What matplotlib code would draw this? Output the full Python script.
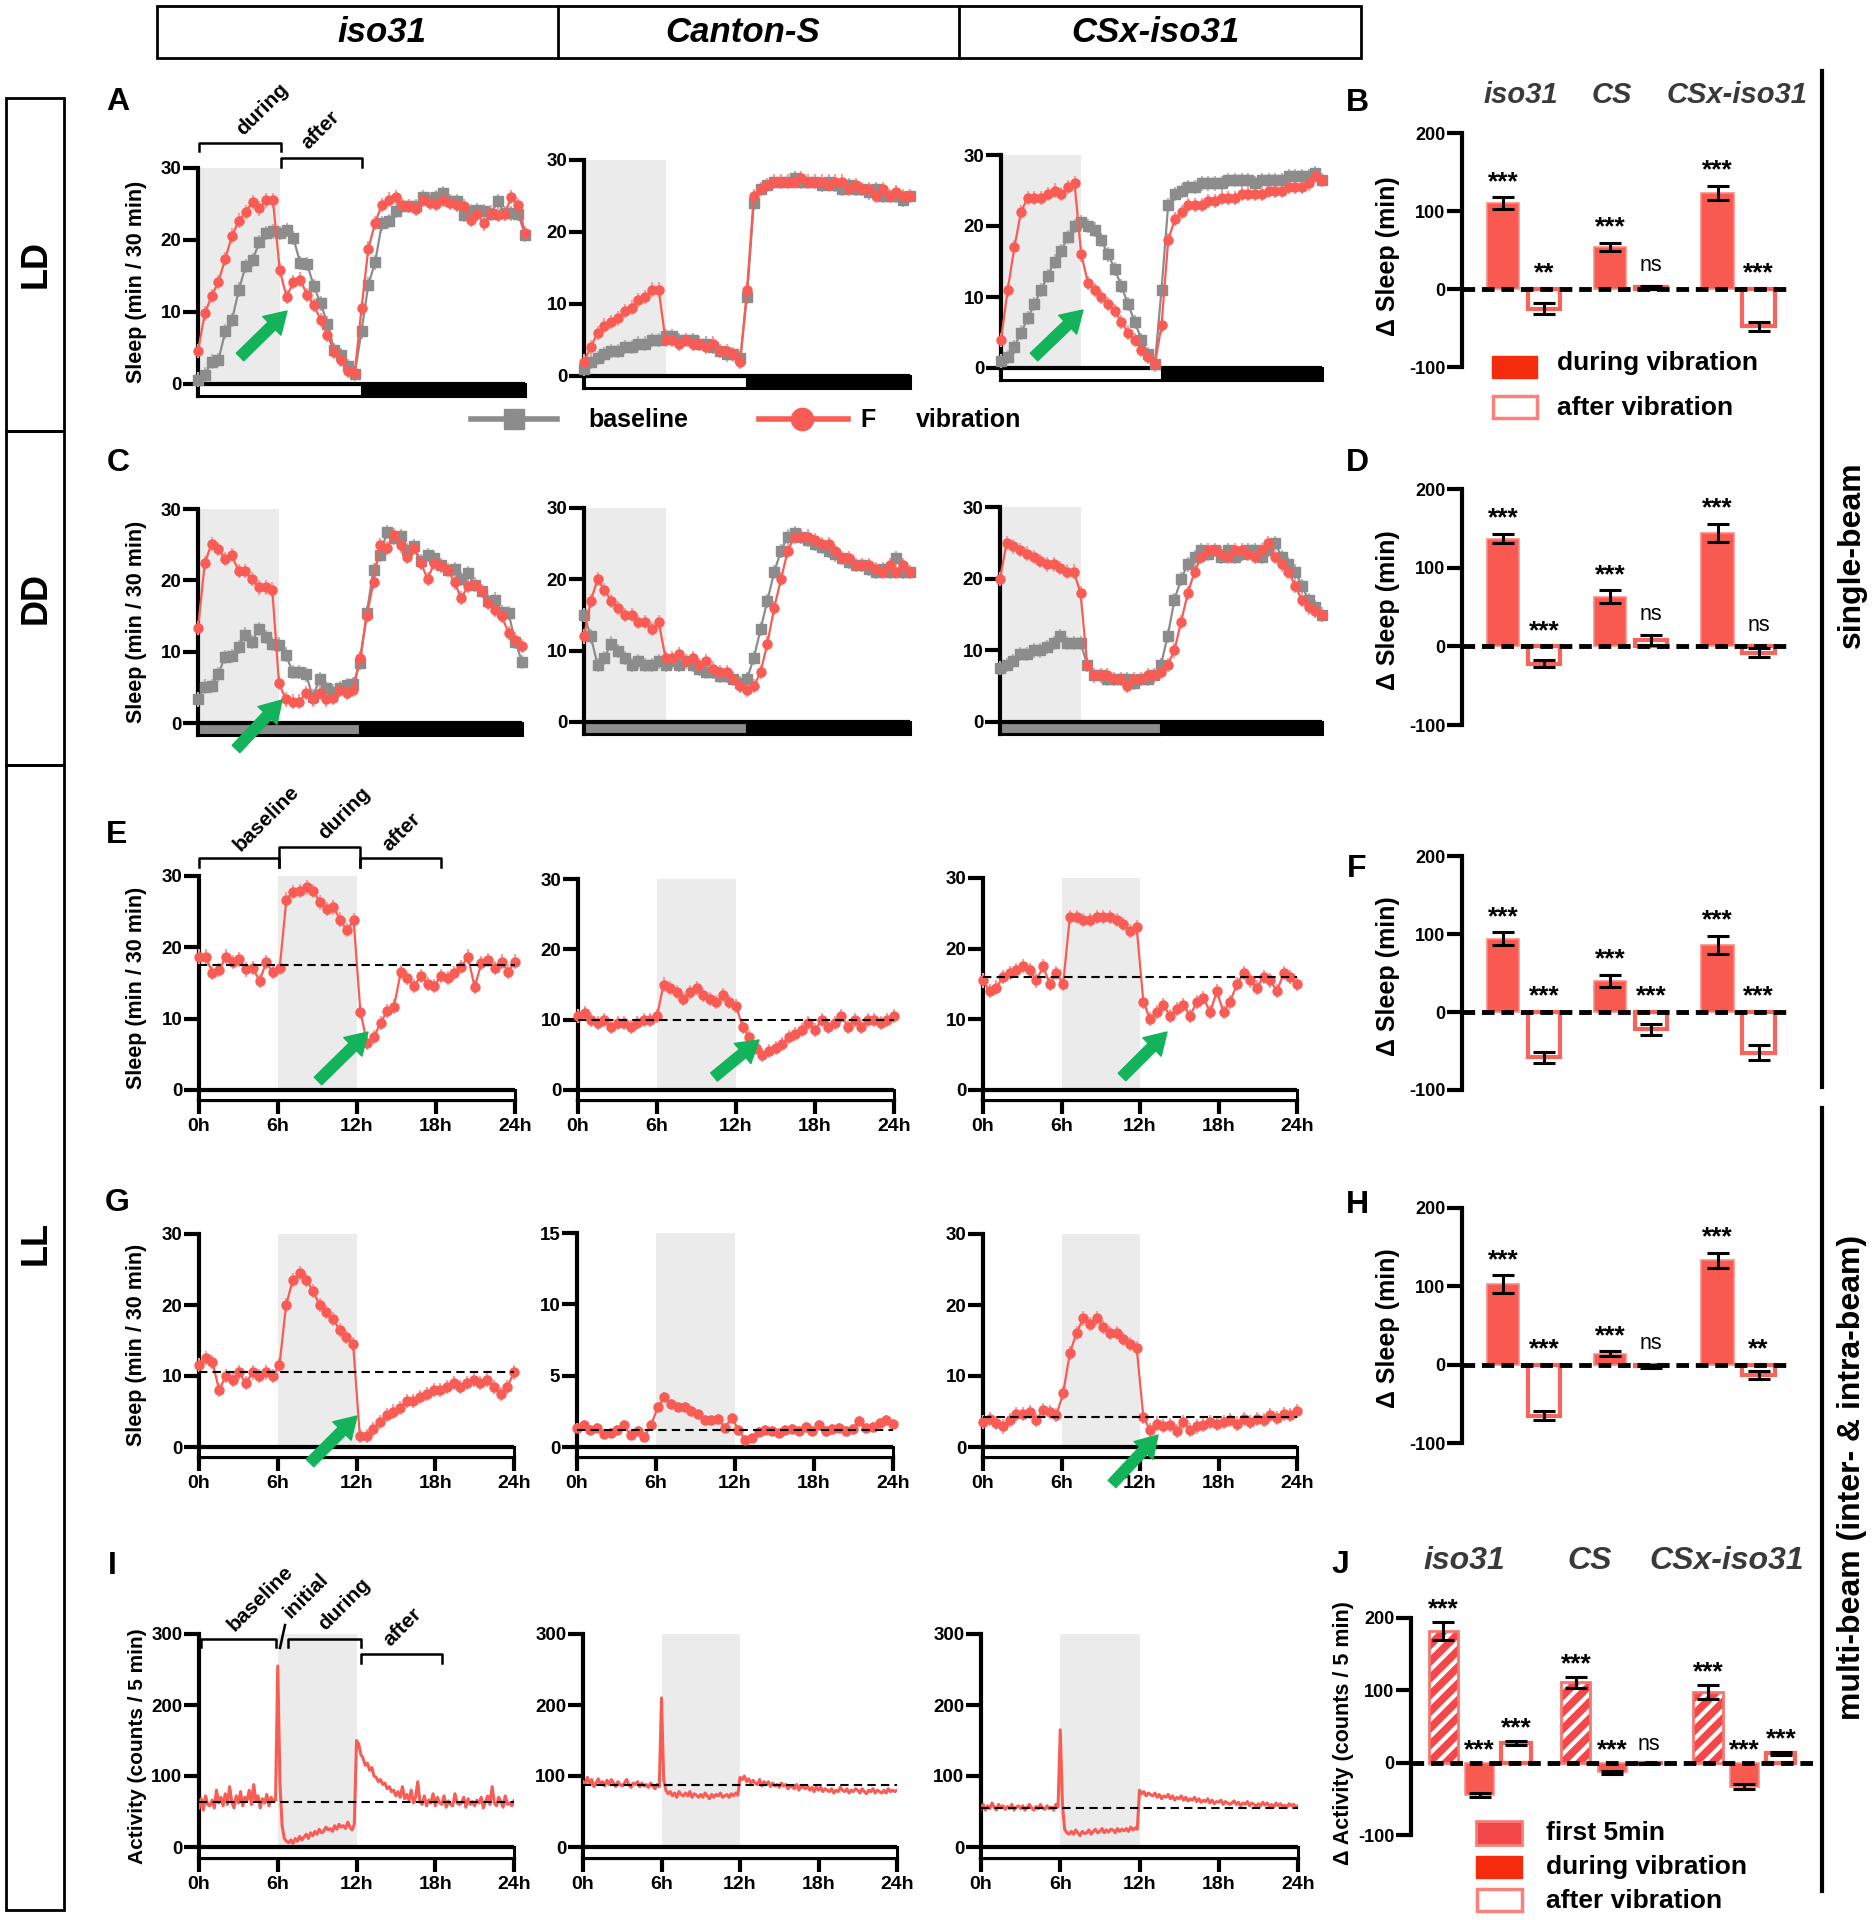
import numpy as np
import matplotlib.pyplot as plt
from matplotlib.patches import Rectangle

plt.rcParams['font.family'] = ['Liberation Sans', 'DejaVu Sans']
plt.rcParams['font.weight'] = 'bold'
plt.rcParams['hatch.linewidth'] = 3.0
plt.rcParams['axes.unicode_minus'] = False

RED = '#f95c55'
RED_ERR = '#f8a09b'
GRAY = '#8c8c8c'
GRAY_ERR = '#b8b8b8'
SHADE = '#ebebeb'
GREEN = '#12b35b'
BAR_RED = '#f85a50'
LEG_RED = '#f42b0c'

# ---- sleep profiles, min / 30 min (0h .. 24h) ----
# LD
ld_iso_vib = [4.6, 9.8, 12.2, 14.2, 17.4, 20.6, 22.7, 23.9, 25.3, 24.4, 25.5, 25.5,
              15.8, 12.1, 14.2, 14.5, 12.4, 11.0, 8.9, 6.8, 4.5, 3.3, 1.8, 1.5,
              10.5, 18.8, 22.4, 24.9, 25.6, 26.0, 24.8, 24.7, 24.3, 25.6, 25.1, 25.0, 25.6,
              25.2, 24.9, 24.7, 22.8, 23.6, 22.3, 23.8, 23.5, 23.6, 26.0, 24.9, 21.0]
ld_iso_base = [0.6, 1.3, 3.1, 3.3, 7.3, 8.9, 13.1, 16.4, 17.2, 19.7, 21.0, 21.2,
               21.0, 21.4, 20.3, 16.8, 16.7, 13.6, 11.2, 8.4, 4.7, 4.0, 2.5, 1.4,
               7.3, 13.8, 16.9, 22.3, 22.6, 24.0, 24.7, 24.7, 24.7, 26.0, 25.6, 26.0, 26.5,
               25.4, 25.4, 23.5, 24.0, 24.1, 24.0, 23.6, 25.4, 23.7, 23.7, 23.6, 20.7]
ld_cs_vib = [2, 4, 6, 7, 7.5, 8, 9, 9.5, 10.5, 11, 12, 12,
             5, 5, 4.5, 5, 4.5, 4.5, 4, 4.5, 3.5, 3.5, 3, 2,
             12, 25, 26, 26.5, 27, 27, 27, 27, 27.5, 27, 27, 27, 26.5,
             27, 27, 26, 26.5, 26, 26, 25, 26, 25, 25.5, 25, 25]
ld_cs_base = [1, 2, 2.5, 3, 3.5, 3.5, 4, 4, 4.5, 4.5, 5, 5,
              5.5, 5.5, 5, 5, 5, 4.5, 4.5, 4, 3.5, 3, 3, 2.5,
              11, 24, 26, 26.5, 27, 27, 27, 27.5, 27, 27, 27, 26.5, 27,
              26.5, 26, 26.5, 26, 26, 25.5, 26, 25, 25, 25, 24.5, 25]
ld_csx_vib = [4, 11, 17, 22, 24, 24, 24, 24.5, 25, 24.5, 25.5, 26,
              16, 12, 11, 10, 9, 8, 6.5, 5, 4, 2.5, 1.5, 0.5,
              6, 18, 21, 22, 23, 23, 23, 23.5, 23.5, 24, 24, 24, 24.5,
              24.5, 24.5, 24.5, 25, 25, 25, 25.5, 25.5, 25.5, 26, 27, 26.5]
ld_csx_base = [1, 1.5, 3, 5, 7, 9, 11, 13, 15, 16.5, 18.5, 20,
               20.5, 20, 19.5, 18, 16, 14, 11.5, 9, 6.5, 4, 2, 0.5,
               11, 23, 24.5, 25, 25.5, 25.5, 26, 26, 26, 26, 26.5, 26.5, 26.5,
               26.5, 26, 26.5, 26.5, 26.5, 26.5, 27, 27, 27, 27, 27.5, 26.5]

# DD
dd_iso_vib = [13.3, 22.4, 25.1, 24.4, 23.0, 23.6, 21.3, 21.3, 20.2, 19.0, 19.0, 18.7,
              5.6, 3.3, 3.0, 3.0, 4.2, 3.3, 4.2, 3.3, 3.5, 4.6, 4.2, 4.6,
              9.1, 15.0, 19.8, 25.0, 24.5, 26.4, 24.9, 23.3, 24.5, 22.5, 20.2, 22.4, 22.0,
              21.5, 19.7, 17.5, 19.2, 19.4, 18.5, 16.8, 15.9, 15.0, 12.6, 11.7, 10.8]
dd_iso_base = [3.3, 5.1, 5.2, 6.8, 9.3, 9.4, 10.7, 12.4, 11.4, 13.2, 12.1, 11.1,
               11.0, 9.6, 7.2, 7.2, 6.8, 3.7, 6.1, 4.9, 4.4, 4.9, 5.3, 5.5,
               8.4, 15.4, 21.5, 23.6, 26.8, 25.9, 26.2, 24.3, 24.8, 22.7, 23.6, 23.1, 22.2,
               21.4, 21.6, 20.2, 21.0, 19.4, 18.5, 17.1, 17.3, 15.5, 15.4, 11.4, 8.6]
dd_cs_vib = [12, 17, 20, 18.5, 17, 16, 15, 15, 14, 14, 13, 14,
             9, 9, 9.5, 8.5, 9, 8, 8.5, 7.5, 7, 7, 6, 5,
             4.5, 5, 7, 11, 16, 20, 24, 26, 26, 26, 25.5, 25, 25,
             24, 23, 23, 22, 22, 22, 21.5, 21, 22, 21, 22, 21]
dd_cs_base = [15, 12, 8, 9, 11, 10, 9, 8, 8.5, 8, 8, 8.5,
              8, 8.5, 8, 8.5, 8, 7.5, 7, 7, 6.5, 6.5, 6, 5.5,
              6, 9, 13, 17, 21, 24, 26, 26.5, 26, 25.5, 25, 24.5, 24,
              23.5, 23, 22.5, 22, 22, 21.5, 21, 21.5, 21, 23, 21, 21]
dd_csx_vib = [20, 25, 24.5, 24, 23.5, 23, 22.5, 22, 22, 21.5, 21, 21,
              18, 8, 6.5, 6.5, 6.5, 6, 6, 5, 6, 6, 6.5, 6.5,
              7, 8, 10, 14, 18, 21, 23, 24, 24, 23.5, 23, 24, 24,
              23.5, 23, 24, 25, 23, 22, 21, 19, 17, 16, 15.5, 15]
dd_csx_base = [7.5, 8, 8.5, 9.5, 9.5, 10, 10, 10.5, 11, 12, 11, 11,
               11, 8, 6.5, 6.5, 6, 6, 6, 6, 5.5, 6, 6, 6.5,
               8, 12, 17, 20, 22, 23, 24, 23.5, 24, 23, 24, 23, 23.5,
               24, 24, 23, 24, 25, 23, 22, 21, 19, 17, 16, 15]

# LL, single-beam
ll_iso = [18.7, 18.7, 16.4, 16.8, 18.7, 17.9, 18.3, 16.9, 17.1, 15.3, 17.9, 16.5, 17.1,
          26.7, 27.8, 27.9, 28.4, 27.9, 26.3, 25.4, 25.6, 23.9, 22.4, 23.8,
          11.0, 6.6, 7.4, 9.4, 11.1, 11.7, 16.5, 15.7, 14.6, 16.0, 14.9, 14.6,
          16.0, 15.7, 16.4, 17.2, 18.7, 14.4, 17.8, 18.2, 17.1, 18.0, 16.6, 18.0]
ll_cs = [10.5, 11, 10, 9.5, 10, 9, 9.5, 9.5, 9, 9.5, 10, 10, 10.5,
         15, 14.5, 14, 13, 14, 14.5, 13.5, 13, 12.5, 13.5, 12.5,
         12, 9, 7.5, 6, 5, 5.5, 6, 6.5, 7.5, 8, 8.5, 9.5, 8.5,
         10, 9, 9.5, 10.5, 9, 10, 9, 10, 10, 9.5, 10, 10.5]
ll_csx = [15.5, 14, 14.5, 16, 16.5, 17, 17.5, 17, 15.5, 17.5, 15, 16.5, 15,
          24.5, 24.5, 24, 24, 24.5, 24.5, 24.5, 24, 23.5, 22.5, 23,
          12.5, 10, 11, 12, 10.5, 11.5, 12, 10.5, 12.5, 13, 11, 14,
          11, 12.5, 15, 16.5, 15.5, 14.5, 16, 15.5, 14, 16.5, 16, 15]
ll_base = [17.5, 10, 16]

# LL, multi-beam
mb_iso = [11.5, 12.5, 12, 8, 10, 9.5, 10.5, 9, 10.5, 10, 10.5, 10,
          11.5, 20, 23.5, 24.5, 23.5, 22, 20, 19, 18, 16.5, 15.5, 14.5,
          1.5, 1.5, 2.5, 3.5, 4.5, 5, 5.5, 6.5, 6.5, 7, 7.5, 8,
          8, 8.5, 9, 8.5, 9, 9.5, 9, 9.5, 8.5, 7.5, 8.5, 10.5]
mb_cs = [1.34, 1.52, 1.17, 1.34, 0.94, 0.98, 1.22, 1.52, 0.82, 1.12, 0.70, 1.52,
         2.77, 3.52, 3.0, 2.81, 2.81, 2.53, 2.34, 1.87, 1.87, 1.99, 1.34, 2.06,
         1.22, 0.52, 0.66, 1.05, 1.17, 1.12, 1.0, 1.17, 1.29, 1.1, 1.41, 1.1,
         1.52, 1.1, 1.29, 1.34, 1.12, 1.29, 1.83, 1.36, 1.41, 1.69, 1.87, 1.64]
mb_csx = [3.5, 4.0, 3.4, 2.9, 3.8, 4.6, 4.7, 4.9, 3.8, 5.2, 4.9, 4.5,
          7.6, 13.2, 16.1, 18.1, 17.3, 18.2, 16.9, 16.1, 16.1, 15.2, 14.5, 14.0,
          4.2, 2.4, 3.3, 3.0, 3.1, 2.2, 3.5, 2.4, 2.9, 3.1, 3.5, 3.3,
          3.5, 3.8, 3.3, 4.0, 3.5, 3.9, 3.8, 4.5, 4.1, 4.7, 4.5, 5.1]
mb_base = [10.5, 1.2, 4.2]

# activity, counts / 5 min, one value per 10 min
act_iso = [55, 68, 52, 72, 60, 58, 66, 55, 80, 62, 70, 58,
           75, 60, 85, 63, 55, 72, 62, 78, 58, 70, 66, 80,
           60, 88, 65, 72, 55, 68, 62, 74, 58, 70, 64, 66,
           255, 90, 30, 12, 8, 6, 10, 5, 12, 8, 15, 10,
           14, 18, 12, 20, 16, 22, 18, 25, 20, 22, 28, 24,
           26, 22, 30, 25, 32, 28, 30, 26, 35, 28, 24, 32,
           150, 145, 130, 125, 115, 118, 108, 112, 100, 98, 92, 95,
           88, 90, 82, 85, 78, 80, 72, 78, 70, 85, 68, 74,
           66, 80, 62, 70, 92, 64, 60, 72, 58, 66, 62, 75,
           58, 70, 62, 60, 72, 56, 65, 60, 58, 75, 62, 60,
           62, 70, 56, 68, 60, 64, 58, 66, 62, 70, 55, 64,
           72, 60, 85, 62, 58, 70, 64, 56, 72, 60, 62, 58, 65]
act_cs = [92, 88, 98, 90, 95, 85, 90, 96, 88, 92, 86, 94,
          88, 95, 90, 85, 92, 88, 86, 90, 95, 88, 84, 90,
          88, 92, 85, 90, 86, 88, 84, 90, 86, 82, 88, 85,
          210, 95, 80, 75, 78, 72, 76, 70, 78, 74, 72, 76,
          72, 78, 70, 75, 73, 70, 74, 70, 76, 72, 68, 74,
          70, 74, 72, 76, 70, 72, 74, 70, 75, 72, 76, 73,
          98, 95, 100, 92, 96, 90, 94, 90, 88, 95, 86, 92,
          88, 92, 85, 90, 86, 88, 84, 90, 86, 88, 82, 86,
          85, 82, 88, 80, 86, 84, 82, 86, 80, 84, 78, 85,
          80, 84, 78, 82, 80, 78, 82, 76, 80, 78, 84, 80,
          78, 82, 76, 80, 78, 82, 80, 76, 82, 78, 75, 80,
          78, 82, 76, 80, 78, 76, 80, 76, 82, 78, 80, 78, 80]
act_csx = [55, 60, 52, 58, 54, 62, 56, 52, 60, 55, 58, 53,
           57, 54, 60, 52, 56, 58, 54, 58, 52, 56, 60, 55,
           52, 57, 54, 60, 55, 53, 58, 54, 56, 52, 60, 56,
           165, 60, 25, 20, 18, 22, 18, 24, 20, 16, 22, 19,
           20, 24, 18, 22, 25, 20, 22, 26, 20, 24, 21, 25,
           24, 20, 26, 22, 25, 23, 26, 22, 28, 24, 27, 25,
           80, 75, 78, 72, 76, 74, 72, 76, 70, 74, 68, 72,
           70, 74, 68, 72, 66, 70, 68, 72, 66, 70, 65, 68,
           66, 70, 64, 68, 63, 66, 64, 68, 62, 66, 61, 64,
           63, 66, 60, 64, 62, 60, 62, 65, 60, 63, 58, 62,
           60, 64, 58, 62, 60, 57, 61, 58, 63, 59, 62, 57,
           60, 56, 62, 58, 61, 57, 59, 56, 61, 58, 60, 57, 58]
act_base = [63, 88, 55]

# ---- delta bars ----
groups = ['iso31', 'CS', 'CSx-iso31']
b_mean = [110, -25, 54, 2, 123, -48]
b_err = [7.5, 7, 5, 2, 9, 6]
b_sig = ['***', '**', '***', 'ns', '***', '***']
d_mean = [137, -22, 63, 8, 144, -8]
d_err = [6, 4, 8, 6, 12, 6]
d_sig = ['***', '***', '***', 'ns', '***', 'ns']
f_mean = [94, -58, 40, -22, 86, -52]
f_err = [8, 7, 8, 7, 12, 10]
f_sig = ['***'] * 6
h_mean = [103, -65, 14, -2, 133, -13]
h_err = [11, 6, 3, 2, 10, 5]
h_sig = ['***', '***', '***', 'ns', '***', '**']
j_mean = [182, -45, 27, 111, -13, -1, 98, -33, 13]
j_err = [13, 3, 3, 8, 2, 1, 10, 3, 2]
j_sig = ['***', '***', '***', '***', '***', 'ns', '***', '***', '***']

W, H = 1873, 1920
fig = plt.figure(figsize=(W / 100, H / 100), dpi=100)


def px_axes(x0, x1, ytop, ybot):
    return fig.add_axes([x0 / W, 1 - ybot / H, (x1 - x0) / W, (ybot - ytop) / H])


def time_panel(px, top, step, shade, light, series=(), line=None, base=None,
               xlab=False, sem=1.0):
    x0, x1, ytop, yzero, ybot = px
    ax = px_axes(x0, x1, ytop, ybot)
    low = -(ybot - yzero) / (yzero - ytop) * top
    ax.set_xlim(0, 24)
    ax.set_ylim(low, top)
    ax.patch.set_visible(False)
    ax.fill_between(shade, 0, top, color=SHADE, lw=0, zorder=0)
    # light / dark bar under the x axis
    for a, b, c in light:
        ax.add_patch(Rectangle((a, low), b - a, -low, facecolor=c, edgecolor='black',
                               lw=2.2, clip_on=False, zorder=3))
    ax.axhline(0, color='black', lw=3, zorder=4)
    if base is not None:
        ax.axhline(base, color='black', lw=1.5, dashes=(4, 2.5), zorder=6)
    for vals, color, ecolor, marker in series:
        hrs = np.linspace(0, 24, len(vals))
        cont = ax.errorbar(hrs, vals, yerr=sem, fmt='-' + marker, color=color,
                           ecolor=ecolor, ms=6.5, lw=1.6, elinewidth=1.6, capsize=0,
                           zorder=5)
        for art in cont.get_children():
            art.set_clip_on(False)
    if line is not None:
        hrs = np.arange(len(line)) / 6
        ax.plot(hrs, line, color=RED, lw=2.2, zorder=5)
    for s in ('top', 'right'):
        ax.spines[s].set_visible(False)
    ax.spines['left'].set_linewidth(3)
    ax.set_yticks(np.arange(0, top + 1, step))
    ax.tick_params(axis='y', length=11, width=3, pad=1, labelsize=13.5)
    if xlab:
        ax.spines['bottom'].set_linewidth(3)
        ax.set_xticks([0, 6, 12, 18, 24], ['0h', '6h', '12h', '18h', '24h'])
        ax.tick_params(axis='x', length=10, width=3, pad=3, labelsize=14)
    else:
        ax.spines['bottom'].set_visible(False)
        ax.set_xticks([])
    return ax


def bar_panel(px, xpos, xlim, means, errs, sig, off):
    x0, x1, ytop, ybot = px
    ax = px_axes(x0, x1, ytop, ybot)
    ax.set_xlim(*xlim)
    ax.set_ylim(-100, 200)
    ax.patch.set_visible(False)
    kinds = ['first', 'during', 'after'] if len(means) == 9 else ['during', 'after']
    w = 0.8
    for i, (p, m) in enumerate(zip(xpos, means)):
        k = kinds[i % len(kinds)]
        if k == 'during':
            ax.bar(p, m, w, color=BAR_RED, edgecolor='#f98c85', lw=1.2, zorder=2)
        elif k == 'after':
            ax.bar(p, m, w, color='white', edgecolor='#f7645c', lw=3, zorder=2)
        else:
            ax.bar(p, m, w, color='#f4474a', edgecolor='white', hatch='//', lw=0, zorder=2)
            ax.bar(p, m, w, fill=False, edgecolor='#f77570', lw=2, zorder=3)
    ax.errorbar(xpos, means, yerr=errs, fmt='none', ecolor='black', elinewidth=2.2,
                capsize=8, capthick=2.2, zorder=5)
    ax.axhline(0, color='black', lw=3.5, dashes=(2.6, 1.4), zorder=6)
    for p, m, e, s in zip(xpos, means, errs, sig):
        y = m + e if m > 0 else 0
        if s == 'ns':
            ax.annotate(s, (p, y), xytext=(0, off + 5), textcoords='offset points',
                        ha='center', va='baseline', fontsize=15.5, fontweight='normal')
        else:
            ax.annotate(s, (p, y), xytext=(0, off), textcoords='offset points',
                        ha='center', va='baseline', fontsize=19)
    for s in ('top', 'right', 'bottom'):
        ax.spines[s].set_visible(False)
    ax.spines['left'].set_linewidth(3)
    ax.set_xticks([])
    ax.set_yticks([-100, 0, 100, 200])
    ax.tick_params(axis='y', length=11, width=3, pad=1, labelsize=13)
    return ax


LD = [(0, 12, 'white'), (12, 24, 'black')]
DD = [(0, 12, GRAY), (12, 24, 'black')]
LL = [(0, 24, 'white')]
vib = lambda v: (v, RED, RED_ERR, 'o')
bas = lambda v: (v, GRAY, GRAY_ERR, 's')

# row A (LD)
time_panel((198, 525, 168, 384, 396), 30, 10, [0, 6], LD, [bas(ld_iso_base), vib(ld_iso_vib)])
time_panel((584, 910, 160, 376, 388), 30, 10, [0, 6], LD, [bas(ld_cs_base), vib(ld_cs_vib)])
time_panel((1001, 1322, 155, 368, 380), 30, 10, [0, 6], LD, [bas(ld_csx_base), vib(ld_csx_vib)])
# row C (DD)
time_panel((198, 522, 509, 723, 735), 30, 10, [0, 6], DD, [bas(dd_iso_base), vib(dd_iso_vib)])
time_panel((584, 910, 508, 722, 734), 30, 10, [0, 6], DD, [bas(dd_cs_base), vib(dd_cs_vib)])
time_panel((1000, 1322, 507, 722, 734), 30, 10, [0, 6], DD, [bas(dd_csx_base), vib(dd_csx_vib)])
# row E (LL single-beam)
time_panel((199, 515, 876, 1090, 1100), 30, 10, [6, 12], LL, [vib(ll_iso)], base=ll_base[0], xlab=True)
time_panel((578, 894, 879, 1090, 1100), 30, 10, [6, 12], LL, [vib(ll_cs)], base=ll_base[1], xlab=True)
time_panel((983, 1297, 878, 1090, 1100), 30, 10, [6, 12], LL, [vib(ll_csx)], base=ll_base[2], xlab=True)
# row G (LL multi-beam)
time_panel((199, 514, 1234, 1447, 1457), 30, 10, [6, 12], LL, [vib(mb_iso)], base=mb_base[0], xlab=True)
time_panel((577, 893, 1233, 1447, 1457), 15, 5, [6, 12], LL, [vib(mb_cs)], base=mb_base[1], xlab=True, sem=0.35)
time_panel((983, 1297, 1234, 1447, 1457), 30, 10, [6, 12], LL, [vib(mb_csx)], base=mb_base[2], xlab=True)
# row I (activity)
time_panel((199, 514, 1634, 1847, 1858), 300, 100, [6, 12], LL, line=act_iso, base=act_base[0], xlab=True)
time_panel((583, 897, 1634, 1847, 1858), 300, 100, [6, 12], LL, line=act_cs, base=act_base[1], xlab=True)
time_panel((981, 1298, 1634, 1847, 1858), 300, 100, [6, 12], LL, line=act_csx, base=act_base[2], xlab=True)

# delta panels
pos6 = [g + k for g in (0, 2.61, 5.24) for k in (0, 1)]
pos9 = [g + k for g in (0, 3.64, 7.26) for k in (0, 1, 2)]
bar_panel((1462, 1789, 133, 367), pos6, (-1.0, 6.98), b_mean, b_err, b_sig, 6)
bar_panel((1462, 1789, 489, 725), pos6, (-1.0, 6.98), d_mean, d_err, d_sig, 6)
bar_panel((1462, 1789, 856, 1090), pos6, (-1.0, 6.98), f_mean, f_err, f_sig, 6)
bar_panel((1462, 1789, 1208, 1443), pos6, (-1.0, 6.98), h_mean, h_err, h_sig, 6)
bar_panel((1411, 1813, 1618, 1835), pos9, (-0.88, 10.14), j_mean, j_err, j_sig, 4)

# ---- annotations in pixel coordinates ----
ov = fig.add_axes([0, 0, 1, 1], zorder=20)
ov.set_xlim(0, W)
ov.set_ylim(H, 0)
ov.axis('off')

# strain header
ov.add_patch(Rectangle((157, 6), 1204, 52, fill=False, edgecolor='black', lw=2))
for xx in (558, 959):
    ov.plot([xx, xx], [6, 58], color='black', lw=2)
for xx, name in zip((382, 743, 1155), ('iso31', 'Canton-S', 'CSx-iso31')):
    ov.text(xx, 32, name, ha='center', va='center', fontsize=25, style='italic')

# condition boxes on the left
for (y0, y1), name in zip(((98, 431), (431, 765), (765, 1910)), ('LD', 'DD', 'LL')):
    ov.add_patch(Rectangle((6, y0), 58, y1 - y0, fill=False, edgecolor='black', lw=2))
    ov.text(36, (y0 + y1) / 2 if name != 'LL' else 1243, name, rotation=90,
            ha='center', va='center', fontsize=26)

# right side brackets
ov.plot([1822, 1822], [71, 1087], color='black', lw=3)
ov.plot([1822, 1822], [1108, 1891], color='black', lw=3)
ov.text(1852, 555, 'single-beam', rotation=90, ha='center', va='center', fontsize=23)
ov.text(1852, 1477, 'multi-beam (inter- & intra-beam)', rotation=90, ha='center',
        va='center', fontsize=23)

# panel letters
for (xx, yy), lab in zip(((118, 102), (1357, 103), (118, 463), (1357, 463), (117, 835),
                          (1357, 869), (117, 1203), (1357, 1205), (112, 1566), (1340, 1565)),
                         'ABCDEFGHIJ'):
    ov.text(xx, yy, lab, ha='center', va='center', fontsize=23)

# y labels
for yy in (282, 622, 988, 1345):
    ov.text(137, yy, 'Sleep (min / 30 min)', rotation=90, ha='center', va='center', fontsize=15.5)
ov.text(138, 1746, 'Activity (counts / 5 min)', rotation=90, ha='center', va='center', fontsize=15)
for yy in (256, 610, 976, 1328):
    ov.text(1388, yy, '\u0394 Sleep (min)', rotation=90, ha='center', va='center', fontsize=18)
ov.text(1344, 1733, '\u0394 Activity (counts / 5 min)', rotation=90, ha='center', va='center',
        fontsize=15.5)

# strain names over the delta panels
for xx, g in zip((1521, 1612, 1737), groups):
    ov.text(xx, 95, g, ha='center', va='center', fontsize=21, style='italic', color='#3a3a3a')
for xx, g in zip((1464, 1590, 1727), groups):
    ov.text(xx, 1561, g, ha='center', va='center', fontsize=23, style='italic', color='#3a3a3a')

# legends
ov.plot([471, 557], [419, 419], color=GRAY, lw=4)
ov.plot([514], [419], marker='s', ms=15, color=GRAY)
ov.text(588, 420, 'baseline', ha='left', va='center', fontsize=18)
ov.plot([759, 848], [419, 419], color=RED, lw=4)
ov.plot([802], [419], marker='o', ms=16, color=RED)
ov.text(860, 420, 'F', ha='left', va='center', fontsize=18)
ov.text(916, 420, 'vibration', ha='left', va='center', fontsize=18)

ov.add_patch(Rectangle((1492, 356), 45, 22, facecolor=LEG_RED, edgecolor=LEG_RED, lw=1))
ov.add_patch(Rectangle((1493, 396), 44, 22, facecolor='white', edgecolor='#f8837c', lw=2.5))
ov.text(1557, 363, 'during vibration', ha='left', va='center', fontsize=19)
ov.text(1557, 408, 'after vibration', ha='left', va='center', fontsize=19)

ov.add_patch(Rectangle((1476, 1821), 46, 24, facecolor='#f4474a', edgecolor='#f77f7a', lw=2))
ov.add_patch(Rectangle((1476, 1856), 46, 22, facecolor=LEG_RED, edgecolor=LEG_RED, lw=1))
ov.add_patch(Rectangle((1477, 1889), 45, 22, facecolor='white', edgecolor='#f8837c', lw=2.5))
for yy, t in zip((1833, 1867, 1901), ('first 5min', 'during vibration', 'after vibration')):
    ov.text(1546, yy, t, ha='left', va='center', fontsize=19)


# epoch brackets
def bracket(xa, xb, y, drop):
    ov.plot([xa, xa, xb, xb], [y + drop, y, y, y + drop], color='black', lw=1.8)


bracket(199, 281, 143, 8)
bracket(281, 362, 158, 9)
ov.text(262, 109, 'during', rotation=45, ha='center', va='center', fontsize=15)
ov.text(321, 130, 'after', rotation=45, ha='center', va='center', fontsize=15)

bracket(199, 279, 858, 9)
bracket(279, 360, 847, 20)
bracket(360, 441, 858, 9)
ov.text(266, 818, 'baseline', rotation=45, ha='center', va='center', fontsize=15)
ov.text(344, 813, 'during', rotation=45, ha='center', va='center', fontsize=15)
ov.text(402, 832, 'after', rotation=45, ha='center', va='center', fontsize=15)

bracket(201, 276, 1639, 8)
bracket(288, 361, 1639, 8)
bracket(361, 442, 1654, 9)
ov.plot([285, 280], [1625, 1648], color='black', lw=1.8)
ov.text(260, 1598, 'baseline', rotation=45, ha='center', va='center', fontsize=15)
ov.text(306, 1596, 'initial', rotation=45, ha='center', va='center', fontsize=15)
ov.text(344, 1604, 'during', rotation=45, ha='center', va='center', fontsize=15)
ov.text(403, 1627, 'after', rotation=45, ha='center', va='center', fontsize=15)

# green arrows
arrows = [((240, 357), (287, 311)), ((1034, 357), (1083, 310)), ((236, 749), (282, 700)),
          ((318, 1081), (368, 1032)), ((714, 1077), (759, 1040)), ((1122, 1077), (1167, 1032)),
          ((310, 1463), (357, 1416)), ((1112, 1484), (1158, 1435))]
for tail, head in arrows:
    ov.annotate('', xy=head, xytext=tail,
                arrowprops=dict(arrowstyle='simple,head_length=0.9,head_width=1.1,tail_width=0.45',
                                color=GREEN, mutation_scale=17, shrinkA=0, shrinkB=0))

fig.savefig('out.png', dpi=100)
